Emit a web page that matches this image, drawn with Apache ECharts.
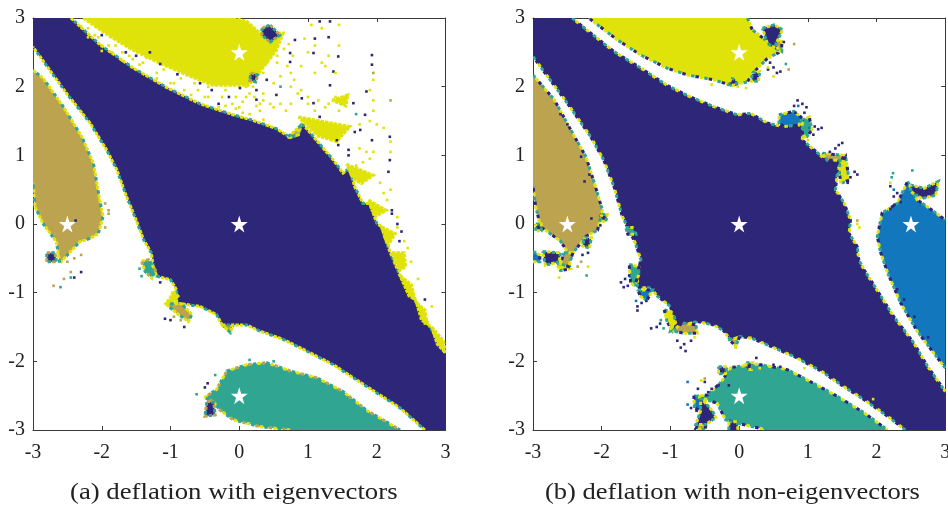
<!DOCTYPE html>
<html><head><meta charset="utf-8">
<style>html,body{margin:0;padding:0;background:#fff}#c{width:948px;height:506px}</style>
<script src="https://cdn.jsdelivr.net/npm/echarts@6/dist/echarts.min.js"></script>
</head><body><div id="c"></div>
<script>
const captionA = '(a) deflation with eigenvectors';
const captionB = '(b) deflation with non-eigenvectors';
const starsA = [[0,2.5],[-2.5,0],[0,0],[0,-2.5]];
const starsB = [[0,2.5],[-2.5,0],[0,0],[2.5,0],[0,-2.5]];

// ---- panel (a) regions, data coordinates
const aNavyMain = [[[-3,3],[-2.45,3],[-2.025,2.61],[-1.54,2.27],[-1.06,1.99],[-0.57,1.75],[-0.09,1.59],[0.2,1.51],[0.54,1.39],[0.74,1.26],[0.86,1.30],[0.91,1.47],[1.08,1.27],[1.37,0.93],[1.51,0.74],[1.6,0.81],[1.68,0.54],[1.8,0.30],[1.9,0.30],[2.0,0.01],[2.07,-0.04],[2.17,-0.35],[2.22,-0.47],[2.34,-0.76],[2.58,-1.15],[2.77,-1.49],[3,-1.88],[3,-3],[2.70,-3],[2.34,-2.68],[2.0,-2.46],[1.66,-2.24],[1.37,-2.05],[0.98,-1.85],[0.64,-1.68],[0.3,-1.56],[0.11,-1.47],[-0.09,-1.47],[-0.13,-1.56],[-0.25,-1.47],[-0.33,-1.32],[-0.57,-1.2],[-0.72,-1.18],[-0.91,-1.15],[-0.91,-0.96],[-1.0,-0.81],[-1.2,-0.76],[-1.25,-0.62],[-1.28,-0.42],[-1.39,-0.23],[-1.52,0.11],[-1.64,0.40],[-1.78,0.79],[-1.93,1.08],[-2.17,1.47],[-2.51,1.9],[-3,2.58]]];
const aYellow = [
 [[-2.27,3],[-0.09,3],[0.11,2.95],[0.3,2.78],[0.64,2.78],[0.54,2.53],[0.25,2.15],[0.13,2.02],[-0.38,2.02],[-0.76,2.17],[-1.15,2.34],[-1.54,2.53],[-1.88,2.73]],
 [[0.86,1.56],[1.61,1.42],[1.42,1.2],[1.15,1.28],[1.0,1.42]],
 [[1.56,0.87],[1.95,0.71],[1.78,0.59],[1.66,0.66]],
 [[1.88,0.35],[2.14,0.2],[2,0.12],[1.93,0.2]],
 [[2.07,-0.04],[2.27,-0.14],[2.17,-0.3],[2.12,-0.2]],
 [[2.22,-0.42],[2.4,-0.42],[2.42,-0.62],[2.33,-0.68]],
 [[2.34,-0.75],[2.5,-0.88],[2.56,-1.1],[2.47,-1.05]],
 [[2.58,-1.15],[2.7,-1.25],[2.73,-1.45],[2.65,-1.4]],
 [[2.8,-1.5],[2.97,-1.7],[3,-1.88],[2.88,-1.75]],
 [[-0.96,-0.98],[-0.89,-1.05],[-1.0,-1.2],[-1.07,-1.16],[-1.0,-1.07]],
 [[1.35,1.8],[1.58,1.88],[1.55,1.72]]
];
const aTan = [
 [[-3,2.24],[-2.85,2.12],[-2.56,1.71],[-2.29,1.27],[-2.12,0.88],[-2.03,0.35],[-1.98,0.11],[-2.05,-0.14],[-2.17,-0.21],[-2.32,-0.26],[-2.61,-0.57],[-2.66,-0.26],[-2.85,0],[-2.97,0.25],[-3,0.6]],
 [[-1.07,-1.16],[-0.84,-1.16],[-0.69,-1.32],[-0.74,-1.42],[-0.91,-1.30]],
 [[-0.25,-1.47],[-0.1,-1.47],[-0.13,-1.58]],
 [[0.7,1.26],[0.86,1.30],[0.88,1.42],[0.8,1.35]]
];
const aTeal = [
 [[-0.51,-2.53],[-0.33,-2.41],[-0.18,-2.14],[0.11,-2.05],[0.40,-2.02],[0.74,-2.14],[1.13,-2.24],[1.51,-2.44],[1.85,-2.71],[2.34,-3],[0.74,-3],[0.3,-2.95],[-0.09,-2.85],[-0.28,-2.71],[-0.38,-2.58]],
 [[-1.42,-0.54],[-1.32,-0.52],[-1.22,-0.67],[-1.27,-0.79],[-1.37,-0.69]]
];
const aHoles = [
 [[0.33,2.85],[0.45,2.9],[0.59,2.75],[0.45,2.65],[0.33,2.75]],
 [[0.17,2.2],[0.27,2.17],[0.24,2.07],[0.15,2.09]],
 [[-2.8,-0.42],[-2.68,-0.42],[-2.66,-0.55],[-2.8,-0.55]],
 [[-0.47,-2.58],[-0.37,-2.6],[-0.35,-2.78],[-0.5,-2.8]]
];
const aDotsNavy = [[0.81,2.68],[1.10,2.70],[1.30,2.72],[1.93,2.46],[1.93,2.32],[1.85,1.93],[2.19,1.27],[2.19,0.93],[2.17,0.76],[2.22,0.20],[2.36,-0.11],[1.68,1.34],[1.83,1.59],[1.66,1.76],[1.76,1.37],[1.59,1.08],[1.42,1.22],[1.17,1.56],[1.08,1.76],[1.32,2.02],[0.91,1.83],[0.74,2.49],[0.74,2.36],[0.54,1.88],[0.25,1.95],[0.25,1.81],[0.01,1.98],[0.40,2.10],[1.08,2.49],[1.44,2.44],[1.37,2.22],[1.32,2.95],[1.17,2.95],[1.93,1.22],[1.59,1.0],[1.44,1.15],[2.22,0.15],[2.3,0.0],[2.33,-0.25],[-1.5,2.45],[-1.3,2.5],[-1.65,2.5],[-2.0,2.75],[-1.15,2.33],[-0.57,2.05],[-0.9,2.18],[-0.4,1.95],[-0.15,1.85],[-0.3,1.75],[-2.38,0.05],[-2.3,-0.7],[-2.4,-0.78],[-1.08,-1.38],[-1,-1.4],[-0.8,-1.5],[-1.15,-0.85],[-0.5,-2.38],[-0.46,-2.32],[2.6,-1.35],[2.7,-1.1]];
const aDotsYellow = [[0.72,2.62],[0.78,2.45],[0.9,2.3],[1.1,2.2],[1.25,2.3],[1.4,2.2],[0.95,2.7],[1.1,2.6],[1.3,2.45],[1.2,2.35],[1.0,2.5],[1.45,2.6],[1.45,2.9],[1.2,2.85],[1.05,2.9],[0.75,2.2],[0.55,2.35],[0.6,2.15],[0.5,2.05],[0.75,2.0],[0.9,1.95],[1.0,1.85],[1.25,1.7],[1.4,1.85],[1.55,1.85],[1.5,1.75],[1.1,1.65],[1.45,1.65],[1.9,1.95],[1.95,2.1],[1.95,1.8],[1.95,1.65],[1.9,1.5],[2.0,1.45],[1.75,1.45],[2.1,1.4],[1.75,1.1],[1.85,1.05],[1.95,1.05],[2.2,1.05],[2.2,1.2],[1.8,0.9],[1.9,0.95],[1.7,0.85],[2.05,0.6],[2.1,0.45],[2.15,0.35],[2.2,0.5],[2.3,0.1],[2.3,-0.05],[2.4,-0.25],[2.45,-0.35],[2.5,-0.55],[0.3,1.75],[0.3,1.65],[0.5,1.7],[0.35,1.9],[0.1,1.85],[-0.1,1.75],[-0.25,1.85],[-0.6,1.95],[-1,2.05],[-1.2,2.2],[-1.4,2.35],[-1.7,2.5],[-1.9,2.6],[-2.2,2.85],[-2.1,2.75],[-0.8,1.95],[-0.45,1.85],[-1.55,2.4],[-1.85,2.5],[-2.0,2.6],[-0.2,1.95],[0,1.7],[2.7,-1.45],[2.8,-1.2],[2.6,-0.8],
 [-2.3,2.88],[-2.2,2.72],[-2.05,2.72],[-2.0,2.52],[-1.8,2.6],[-1.7,2.38],[-1.6,2.45],[-1.45,2.32],[-1.35,2.42],[-1.2,2.12],[-1.1,2.25],[-0.95,2.05],[-0.85,2.12],[-0.7,1.88],[-0.65,2.05],[-0.5,1.85],[-0.45,2.0],[-0.3,1.7],[-0.2,1.72],[-0.05,1.68],[0.05,1.62],[0.15,1.6],[0.25,1.72],[0.35,1.52],[0.1,2.0],[0.15,1.9],[0.22,1.85],[0.35,1.8],[0.45,1.75],[0.6,1.75],[0.68,1.65],[0.75,1.75],[-0.05,1.85],[0.05,1.78],[0.2,2.0],[0.35,2.2],[0.4,2.35],[0.45,2.45],[0.55,2.45],[0.65,2.55],[0.7,2.3],[0.8,2.1],[0.85,1.9],[1.0,1.75],[1.15,1.8],[1.3,1.75]];
const aDotsTan = [[-2.3,-0.45],[-2.4,-0.5],[-2.5,-0.55],[-2.45,-0.7],[-2.55,-0.8],[-2.7,-0.9],[-1.95,0.3],[-1.9,0.15],[-1.9,0.2],[-1.95,-0.05],[-0.85,-1.4],[-0.95,-1.35],[2.2,1.8],[1.95,2.2]];
const aDotsTeal = [[-2.6,-0.92],[-2.45,-0.78],[-1.42,-0.76],[-1.45,-0.65],[-0.62,-2.48],[-0.35,-2.2],[0.15,-1.98],[0.5,-2.0],[1.7,1.6],[0.6,2.0]];

// ---- panel (b) regions
const bNavyMain = [[[-3,3],[-2.43,3],[-2.16,2.78],[-1.82,2.51],[-1.43,2.27],[-1.05,2.02],[-0.71,1.85],[-0.37,1.71],[-0.03,1.59],[0.17,1.61],[0.41,1.47],[0.63,1.42],[0.92,1.47],[0.92,1.22],[1.09,1.08],[1.23,0.96],[1.48,0.93],[1.43,0.74],[1.40,0.5],[1.53,0.3],[1.62,0.06],[1.6,-0.14],[1.72,-0.33],[1.74,-0.52],[1.82,-0.67],[2.03,-1.0],[2.25,-1.35],[2.54,-1.73],[2.74,-2.07],[3,-2.44],[3,-3],[2.42,-3],[2.16,-2.8],[1.82,-2.56],[1.48,-2.34],[1.19,-2.14],[0.8,-1.93],[0.41,-1.76],[0.17,-1.66],[0.0,-1.64],[-0.12,-1.7],[-0.22,-1.56],[-0.37,-1.47],[-0.61,-1.42],[-0.8,-1.47],[-1.0,-1.56],[-0.95,-1.39],[-1.0,-1.2],[-1.19,-1.05],[-1.29,-0.93],[-1.48,-0.93],[-1.48,-0.71],[-1.43,-0.52],[-1.51,-0.28],[-1.7,0.11],[-1.82,0.54],[-1.97,0.93],[-2.16,1.27],[-2.5,1.76],[-2.84,2.22],[-3,2.44]]];
const bYellow = [
 [[-2.19,3],[0.12,3],[0.19,2.83],[0.6,2.51],[0.41,2.41],[0.19,2.19],[0.12,2.07],[-0.12,2.02],[-0.37,2.1],[-0.75,2.17],[-1.05,2.27],[-1.43,2.46],[-1.77,2.68]],
 [[1.45,0.83],[1.55,0.98],[1.6,0.64],[1.48,0.59]],
 [[-1.09,-1.25],[-0.95,-1.29],[-0.92,-1.49],[-0.97,-1.56],[-1.05,-1.42]],
 [[-2.65,-0.6],[-2.5,-0.55],[-2.45,-0.65],[-2.6,-0.68]]
];
const bTan = [
 [[-3,2.17],[-2.69,1.81],[-2.45,1.37],[-2.23,0.98],[-2.09,0.54],[-1.99,0.2],[-2.06,-0.09],[-2.23,-0.18],[-2.4,-0.4],[-2.45,-0.48],[-2.6,-0.25],[-2.89,-0.04],[-2.96,0.25],[-3,0.55]],
 [[1.21,1.03],[1.52,1.0],[1.5,0.93],[1.28,0.93]],
 [[-0.97,-1.56],[-0.83,-1.44],[-0.63,-1.47],[-0.61,-1.59],[-0.8,-1.59]],
 [[0.53,2.68],[0.62,2.66],[0.62,2.51],[0.55,2.53]],
 [[-0.15,-1.68],[0,-1.66],[-0.05,-1.78]],
 [[-2.55,-0.42],[-2.42,-0.42],[-2.48,-0.62],[-2.6,-0.58]],
 [[-0.6,-2.92],[-0.48,-2.92],[-0.5,-3],[-0.63,-2.98]]
];
const bTeal = [
 [[-0.63,-2.51],[-0.46,-2.49],[-0.27,-2.31],[-0.12,-2.09],[0.26,-2.04],[0.7,-2.12],[0.99,-2.27],[1.43,-2.51],[1.82,-2.75],[2.16,-3],[0.41,-3],[-0.03,-2.9],[-0.2,-2.85],[-0.32,-2.61]],
 [[-1.6,-0.59],[-1.46,-0.62],[-1.46,-0.74],[-1.53,-0.91],[-1.58,-0.84]],
 [[0.92,1.51],[1.02,1.56],[1.06,1.37],[0.97,1.25],[0.92,1.32]],
 [[-1.65,-0.05],[-1.52,-0.05],[-1.5,-0.15],[-1.62,-0.15]]
];
const bBlue = [
 [[2.45,0.62],[2.59,0.35],[2.74,0.25],[3,0.06],[3,-2.1],[2.59,-1.56],[2.35,-1.15],[2.16,-0.71],[2.06,-0.42],[2.01,-0.18],[2.08,0.16],[2.3,0.3]],
 [[0.58,1.59],[0.8,1.64],[0.92,1.54],[0.87,1.44],[0.65,1.42],[0.58,1.47]],
 [[-1.48,-0.96],[-1.26,-0.96],[-1.34,-1.11],[-1.43,-1.06]],
 [[-0.66,-2.5],[-0.56,-2.53],[-0.56,-2.72],[-0.65,-2.68]],
 [[-3,-0.4],[-2.9,-0.45],[-2.9,-0.55],[-3,-0.55]]
];
const bHoles = [
 [[0.34,2.85],[0.51,2.9],[0.63,2.83],[0.53,2.61],[0.58,2.53],[0.41,2.63]],
 [[2.49,0.57],[2.69,0.52],[2.9,0.62],[2.86,0.42],[2.66,0.37],[2.5,0.47]],
 [[-0.56,-2.53],[-0.39,-2.72],[-0.34,-2.82],[-0.49,-2.92],[-0.63,-2.92],[-0.56,-2.72]],
 [[-2.86,-0.4],[-2.6,-0.42],[-2.62,-0.55],[-2.82,-0.6]],
 [[-0.12,2.12],[-0.02,2.1],[-0.05,2.02],[-0.15,2.03]],
 [[0.19,2.2],[0.3,2.22],[0.28,2.08],[0.18,2.08]],
 [[-0.15,-2.88],[-0.02,-2.88],[-0.02,-3],[-0.15,-3]],
 [[0.1,-2.02],[0.2,-2.02],[0.18,-2.12],[0.1,-2.12]],
 [[-0.3,-2.08],[-0.18,-2.08],[-0.2,-2.18],[-0.3,-2.18]],
 [[-2.96,0.0],[-2.88,0.0],[-2.88,-0.1],[-2.96,-0.1]],
 [[-2.0,0.14],[-1.92,0.14],[-1.94,0.04],[-2.02,0.04]],
 [[-2.25,-0.2],[-2.15,-0.2],[-2.18,-0.35],[-2.28,-0.32]]
];
const bDotsNavy = [[0.8,1.72],[0.85,1.8],[0.92,1.75],[0.98,1.7],[0.95,1.62],[0.82,1.62],[1.1,1.42],[1.15,1.38],[1.2,1.4],[1.08,1.3],[1.4,1.1],[1.45,1.15],[1.5,1.18],[1.32,1.05],[1.58,0.8],[1.68,0.76],[1.62,0.68],[1.72,0.72],[1.58,0.6],[2.25,0.4],[2.3,0.45],[2.2,0.55],[2.2,0.22],[2.26,0.28],[2.35,0.32],[0.5,2.28],[0.55,2.2],[0.45,2.35],[0.42,2.25],[0.6,2.22],[0.65,2.65],[-1.72,-0.85],[-1.66,-0.8],[-1.6,-0.75],[-1.68,-0.92],[-1.62,-0.9],[-1.48,-1.2],[-1.42,-1.15],[-1.35,-1.12],[-1.48,-1.26],[-1.2,-1.5],[-1.15,-1.45],[-1.28,-1.52],[-0.85,-1.8],[-0.8,-1.75],[-0.9,-1.7],[-0.7,-1.7],[-0.78,-1.85],[-0.5,-2.3],[-0.4,-2.4],[-0.3,-2.35],[-0.6,-2.4],[-0.45,-2.45],[-0.7,-2.68],[-0.62,-2.72],[-0.15,-2.35],[0.25,-1.95],[0.5,-2.05],[0.6,-2.08],[-2.28,-0.45],[-2.2,-0.42],[-2.15,0.08],[-2.02,-0.02],[-2.25,0.62],[-2.18,0.72],[-2.3,0.98],[-2.5,1.45],[-2.6,1.6],[2.3,-0.95],[2.4,-1.1],[2.55,-1.35],[2.75,-1.65]];
const bDotsYellow = [[-1.0,-1.45],[-0.65,-1.65],[-0.05,-1.8],[1.0,1.22],[1.75,-0.05],[1.72,0.0],[2.2,0.6],[-2.62,-0.78],[-2.2,-0.62],[0.42,2.28],[0.5,2.15],[-0.02,2.0],[0.1,1.98],[-0.4,2.03],[1.95,-2.55],[0.95,-2.1],[0.3,-2.1],[-0.55,-2.28]];
const bDotsTan = [[0.8,2.62],[0.72,2.25],[-2.3,-0.55],[-2.35,-0.62],[-0.5,-2.25],[1.72,0.05],[-2.28,0.5],[-2.12,0.25]];
const bDotsTeal = [[0.68,2.33],[2.52,0.78],[2.22,0.68],[2.24,0.74],[-1.14,-1.4],[-0.05,-2.3],[-2.22,-0.75],[-1.1,-1.52]];
const bDotsBlue = [[-0.75,-2.63],[-0.75,-2.3],[0.86,1.72],[2.25,0.5],[-1.5,-1.12],[1.02,1.4],[2.3,-0.6]];

const C = {navy:'#2e2678', yellow:'#e0e30a', tan:'#bca34f', teal:'#30a592', blue:'#1277bd'};
const STAR = 'path://M50 0 L61 35 L98 35 L68 57 L79 91 L50 70 L21 91 L32 57 L2 35 L39 35 Z';

function onEdge(a,b){return (Math.abs(a[0])>=3&&a[0]===b[0])||(Math.abs(a[1])>=3&&a[1]===b[1]);}
function runs(poly){
  const out=[];let cur=[poly[0]];
  for(let i=1;i<=poly.length;i++){
    const p=poly[i%poly.length],q=poly[i-1];
    if(onEdge(q,p)){if(cur.length>1)out.push(cur);cur=[p];}else cur.push(p);
  }
  if(cur.length>1)out.push(cur);
  return out;
}
function regions(ax,name,color,polys,fr){
  return {type:'custom',name,xAxisIndex:ax,yAxisIndex:ax,clip:true,silent:true,
    data:polys.map((_,i)=>[i]),
    renderItem(params,api){
      const poly=polys[params.dataIndex];
      const ch=[{type:'polygon',shape:{points:poly.map(p=>api.coord(p))},style:{fill:color}}];
      runs(poly).forEach(r=>{
        const pts=r.map(p=>api.coord(p));
        fr.forEach((f,k)=>ch.push({type:'polyline',shape:{points:pts},
          style:{fill:null,stroke:f,lineWidth:3,lineDash:[3.5,fr.length*4.5-3.5],lineDashOffset:-k*4.5}}));
      });
      return {type:'group',children:ch};
    }};
}
function dots(ax,color,d){
  return {type:'scatter',xAxisIndex:ax,yAxisIndex:ax,data:d,symbol:'rect',symbolSize:2.6,silent:true,
    itemStyle:{color,opacity:1},z:3};
}
function stars(ax,d){
  return {type:'scatter',xAxisIndex:ax,yAxisIndex:ax,data:d,symbol:STAR,symbolSize:17,silent:true,
    itemStyle:{color:'#fff',opacity:1},z:5};
}
const lineC='#3a3a3a';
function axisBase(g,pos,lab,pad){return {type:'value',gridIndex:g,position:pos,min:-3,max:3,interval:1,
  axisLine:{show:true,onZero:false,lineStyle:{color:lineC,width:1}},
  axisTick:{show:true,inside:true,length:4,lineStyle:{color:lineC,width:1}},splitLine:{show:false},
  axisLabel:{show:lab,margin:pad,fontFamily:'Liberation Serif',fontSize:20,color:'#222',hideOverlap:false,showMinLabel:true,showMaxLabel:true}};}
function xA(g,pos,lab){return axisBase(g,pos,lab,13);}
function yA(g,pos,lab){const a=axisBase(g,pos,lab,8);a.axisLabel.padding=[3,0,0,0];return a;}

const frA=[C.yellow,C.teal,C.yellow], frB=[C.teal,C.yellow,C.navy];
const capFont='23px "Liberation Serif"';
const option={
  animation:false,backgroundColor:'#fff',
  graphic:[
    {type:'text',x:70,y:493,scaleX:1.163,silent:true,style:{text:captionA,font:capFont,fill:'#222',verticalAlign:'middle'}},
    {type:'text',x:545,y:493,scaleX:1.153,silent:true,style:{text:captionB,font:capFont,fill:'#222',verticalAlign:'middle'}}
  ],
  grid:[{left:33,top:18,width:412.5,height:412,outerBoundsMode:'none'},{left:533,top:18,width:412.3,height:412,outerBoundsMode:'none'}],
  xAxis:[xA(0,'bottom',true),xA(0,'top',false),xA(1,'bottom',true),xA(1,'top',false)],
  yAxis:[yA(0,'left',true),yA(0,'right',false),yA(1,'left',true),yA(1,'right',false)],
  series:[
    regions(0,'navy',C.navy,aNavyMain,frA),
    regions(0,'yellow',C.yellow,aYellow,[C.yellow]),
    regions(0,'tan',C.tan,aTan,frA),
    regions(0,'teal',C.teal,aTeal,[C.yellow,C.tan,C.teal]),
    regions(0,'holes',C.navy,aHoles,[C.tan,C.teal]),
    dots(0,C.navy,aDotsNavy),dots(0,C.yellow,aDotsYellow),dots(0,C.tan,aDotsTan),dots(0,C.teal,aDotsTeal),
    stars(0,starsA),
    regions(2,'navy',C.navy,bNavyMain,frB),
    regions(2,'yellow',C.yellow,bYellow,frB),
    regions(2,'tan',C.tan,bTan,frB),
    regions(2,'teal',C.teal,bTeal,frB),
    regions(2,'blue',C.blue,bBlue,frB),
    regions(2,'holes',C.navy,bHoles,[C.teal,C.yellow]),
    dots(2,C.navy,bDotsNavy),dots(2,C.yellow,bDotsYellow),dots(2,C.tan,bDotsTan),dots(2,C.teal,bDotsTeal),dots(2,C.blue,bDotsBlue),
    stars(2,starsB)
  ]
};
echarts.init(document.getElementById('c'),null,{renderer:'canvas'}).setOption(option);
</script></body></html>
